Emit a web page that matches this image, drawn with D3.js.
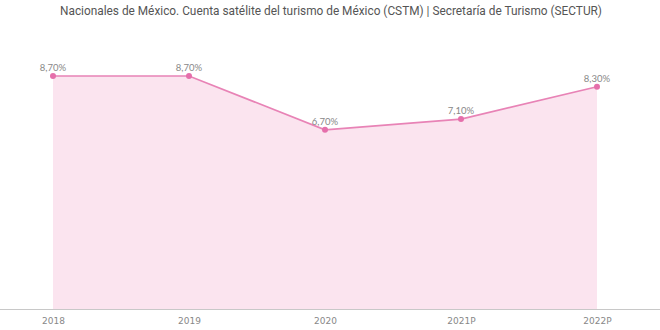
<!DOCTYPE html>
<html><head><meta charset="utf-8">
<script src="https://cdn.jsdelivr.net/npm/d3@7"></script>
<style>html,body{margin:0;padding:0;background:#fff;}svg{display:block;}</style>
</head><body>
<svg id="c" width="660" height="330"></svg>
<script>
const categories = ["2018", "2019", "2020", "2021P", "2022P"];
const values = [8.7, 8.7, 6.7, 7.1, 8.3];
const valueLabels = ["8,70%", "8,70%", "6,70%", "7,10%", "8,30%"];
const subtitle = "Nacionales de México. Cuenta satélite del turismo de México (CSTM) | Secretaría de Turismo (SECTUR)";

const svg = d3.select("#c");
const x = d3.scalePoint().domain(categories).range([53, 597]);
const y = d3.scaleLinear().domain([0, 8.7]).range([310, 76]);

svg.append("text").attr("x", 60).attr("y", 15)
  .attr("font-family", "Roboto, sans-serif").attr("font-size", 13)
  .attr("fill", "#555").attr("textLength", 542).attr("lengthAdjust", "spacingAndGlyphs")
  .text(subtitle);

const data = categories.map((c, i) => ({c, v: values[i], l: valueLabels[i]}));

svg.append("path").datum(data)
  .attr("d", d3.area().x(d => x(d.c)).y0(y(0)).y1(d => y(d.v)))
  .attr("fill", "#fbe4ef");

svg.append("path").datum(data)
  .attr("d", d3.line().x(d => x(d.c)).y(d => y(d.v)))
  .attr("fill", "none").attr("stroke", "#e883b6").attr("stroke-width", 1.7);

svg.selectAll("circle.pt").data(data).enter().append("circle")
  .attr("cx", d => x(d.c)).attr("cy", d => y(d.v)).attr("r", 3)
  .attr("fill", "#e56fab");

svg.selectAll("text.lbl").data(data).enter().append("text")
  .attr("x", d => x(d.c)).attr("y", d => y(d.v) - 5)
  .attr("text-anchor", "middle").attr("font-family", "Lato, sans-serif")
  .attr("font-size", 9.5).attr("fill", "#888").text(d => d.l);

const axis = svg.append("g").attr("transform", `translate(0,${y(0)})`)
  .call(d3.axisBottom(x).tickSize(0).tickPadding(8));
axis.select(".domain").remove();
svg.append("line").attr("x1", 0).attr("x2", 660).attr("y1", y(0) - 0.5).attr("y2", y(0) - 0.5)
  .attr("stroke", "#c8c8c8").attr("stroke-width", 1);
axis.selectAll("text").attr("font-family", "'DejaVu Sans', sans-serif")
  .attr("font-size", 9).attr("fill", "#888");
</script>
</body></html>
